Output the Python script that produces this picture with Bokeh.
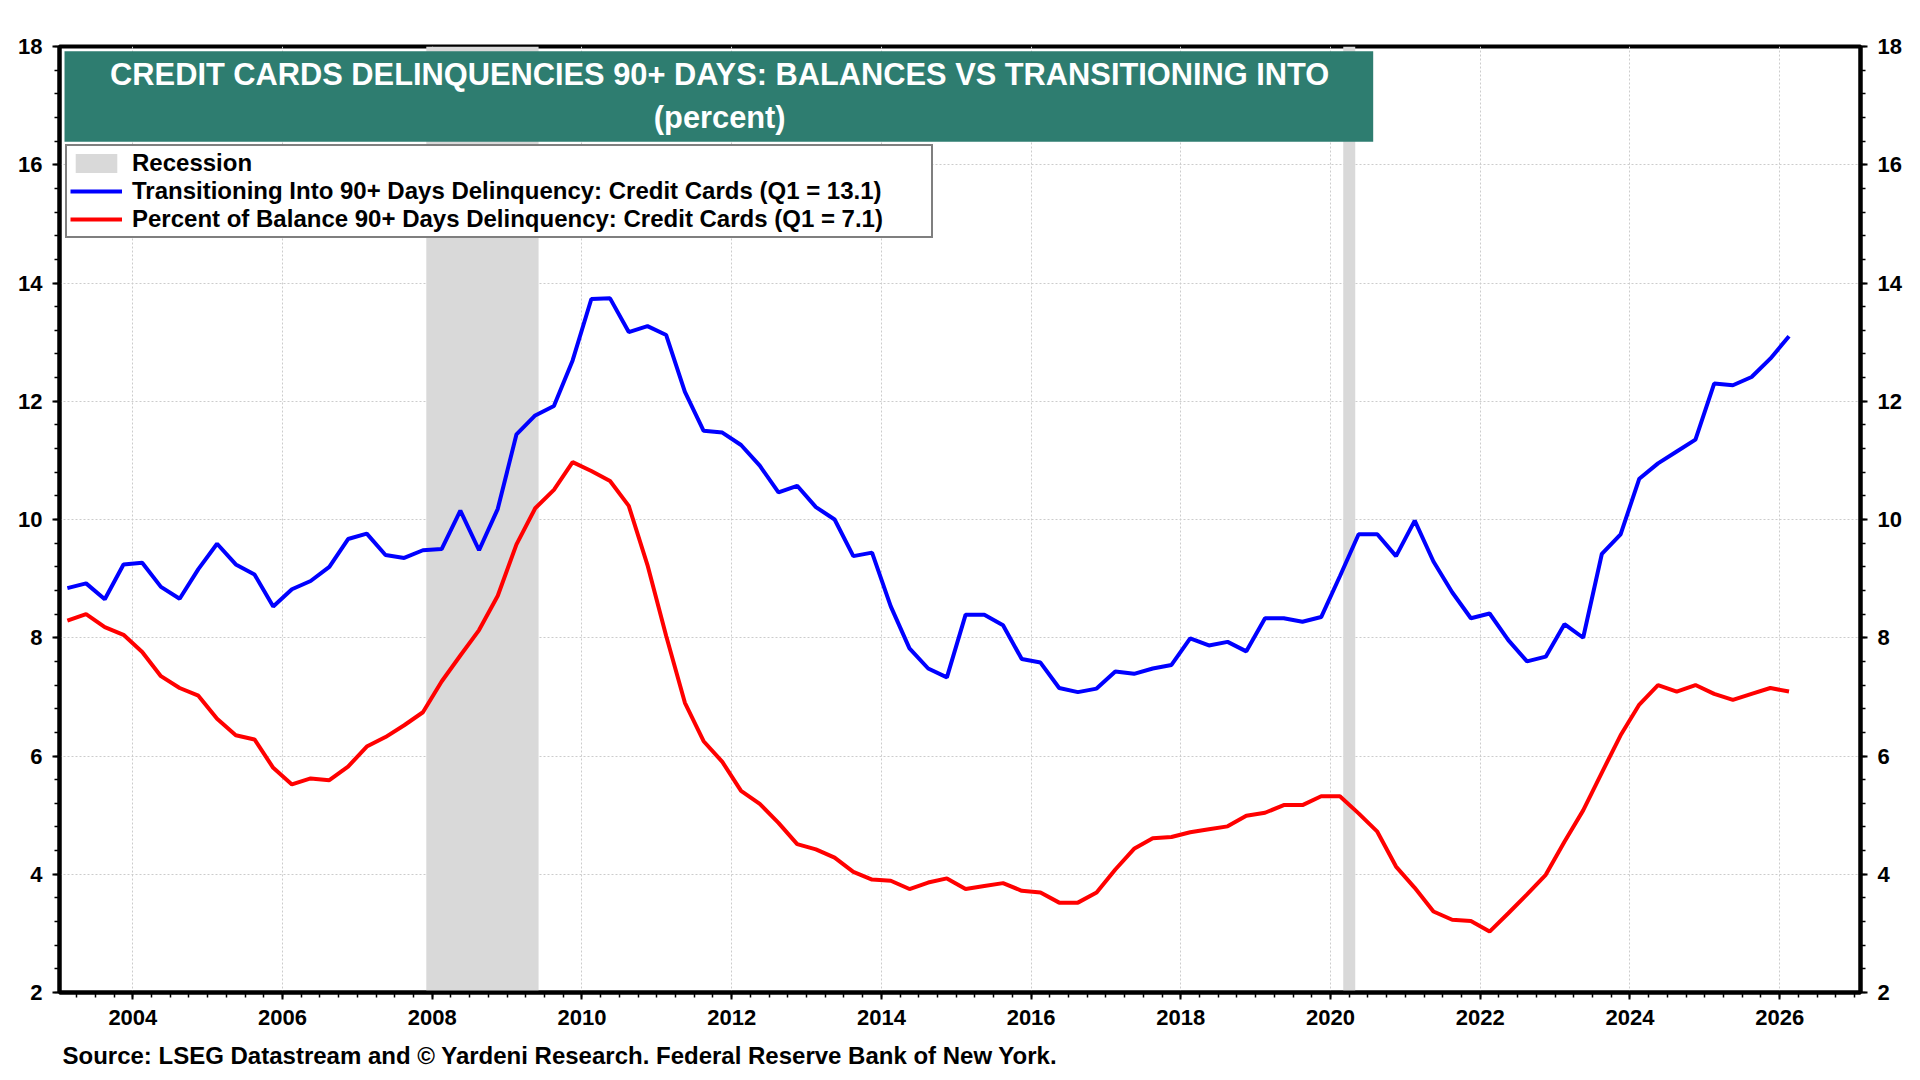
from bokeh.plotting import figure
from bokeh.models import (Range1d, LinearAxis, SingleIntervalTicker, Legend, LegendItem,
                          BoxAnnotation, Label, Title)
from bokeh.embed import file_html
from bokeh.resources import INLINE

# ---------------- data (quarterly, 2003Q1 .. 2026Q1) ----------------
start_year = 2003
transitioning = [
    8.84, 8.92, 8.65, 9.24, 9.27, 8.86, 8.66, 9.16, 9.59, 9.24, 9.07, 8.53,
    8.82, 8.96, 9.20, 9.67, 9.76, 9.40, 9.35, 9.48, 9.50, 10.15, 9.48, 10.18,
    11.44, 11.76, 11.92, 12.69, 13.73, 13.74, 13.17, 13.27, 13.12, 12.16, 11.50, 11.47,
    11.26, 10.91, 10.46, 10.57, 10.21, 10.00, 9.38, 9.44, 8.53, 7.82, 7.48, 7.33,
    8.39, 8.39, 8.21, 7.64, 7.58, 7.15, 7.08, 7.14, 7.43, 7.39, 7.48, 7.54,
    7.99, 7.87, 7.93, 7.77, 8.33, 8.33, 8.27, 8.35, 9.04, 9.75, 9.75, 9.38,
    9.98, 9.29, 8.77, 8.33, 8.41, 7.96, 7.60, 7.68, 8.23, 8.00, 9.42, 9.75,
    10.69, 10.95, 11.15, 11.35, 12.30, 12.27, 12.41, 12.72, 13.10,
]
balance = [
    8.29, 8.40, 8.18, 8.05, 7.76, 7.35, 7.15, 7.02, 6.63, 6.35, 6.28, 5.80,
    5.52, 5.62, 5.59, 5.82, 6.16, 6.32, 6.52, 6.74, 7.26, 7.70, 8.13, 8.71,
    9.58, 10.19, 10.50, 10.97, 10.82, 10.65, 10.23, 9.23, 8.03, 6.90, 6.25, 5.90,
    5.41, 5.19, 4.87, 4.51, 4.42, 4.28, 4.04, 3.91, 3.89, 3.75, 3.86, 3.93,
    3.75, 3.80, 3.85, 3.72, 3.69, 3.52, 3.52, 3.69, 4.08, 4.43, 4.61, 4.63,
    4.71, 4.76, 4.81, 4.99, 5.04, 5.17, 5.17, 5.32, 5.32, 5.03, 4.72, 4.13,
    3.77, 3.37, 3.23, 3.21, 3.03, 3.34, 3.66, 3.99, 4.55, 5.08, 5.72, 6.35,
    6.87, 7.20, 7.09, 7.20, 7.05, 6.95, 7.05, 7.15, 7.09,
]
rec_start = [2007.92, 2020.17]
rec_end = [2009.42, 2020.33]
x_ticks_interval = 2
y_ticks_interval = 2

title_line1 = "CREDIT CARDS DELINQUENCIES 90+ DAYS: BALANCES VS TRANSITIONING INTO"
title_line2 = "(percent)"
legend_labels = [
    "Recession",
    "Transitioning Into 90+ Days Delinquency: Credit Cards (Q1 = 13.1)",
    "Percent of Balance 90+ Days Delinquency: Credit Cards (Q1 = 7.1)",
]
source_text = "Source: LSEG Datastream and \u00a9 Yardeni Research. Federal Reserve Bank of New York."

# quarter mid-points as decimal years
dates = [start_year + 0.125 + 0.25 * i for i in range(len(transitioning))]

FONT = "Liberation Sans"
Y0, Y1 = 2, 18

p = figure(width=1920, height=1080, output_backend="svg", toolbar_location=None,
           x_range=Range1d(2003.02, 2027.08), y_range=Range1d(Y0, Y1),
           min_border_left=59, min_border_right=60, min_border_top=46, min_border_bottom=87,
           background_fill_color="white", border_fill_color="white")

p.outline_line_color = "black"
p.outline_line_width = 4

for g in (p.xgrid[0], p.ygrid[0]):
    g.grid_line_color = "#cccccc"
    g.grid_line_dash = "2 2"
    g.grid_line_width = 1

p.xaxis[0].ticker = SingleIntervalTicker(interval=x_ticks_interval, num_minor_ticks=8)
p.yaxis[0].ticker = SingleIntervalTicker(interval=y_ticks_interval, num_minor_ticks=5)
p.xgrid[0].ticker = p.xaxis[0].ticker
p.ygrid[0].ticker = p.yaxis[0].ticker

right_axis = LinearAxis(ticker=SingleIntervalTicker(interval=y_ticks_interval, num_minor_ticks=5))
p.add_layout(right_axis, "right")


def style_axis(ax):
    ax.axis_line_width = 4
    ax.axis_line_color = "black"
    ax.major_tick_line_width = 2
    ax.major_tick_line_color = "black"
    ax.minor_tick_line_width = 1.5
    ax.minor_tick_line_color = "black"
    ax.major_tick_out = 7
    ax.major_tick_in = 0
    ax.minor_tick_out = 5
    ax.minor_tick_in = 0
    ax.major_label_text_font = FONT
    ax.major_label_text_font_style = "bold"
    ax.major_label_text_font_size = "22px"
    ax.major_label_text_color = "black"
    ax.major_label_standoff = 10


for ax in (p.xaxis[0], p.yaxis[0], right_axis):
    style_axis(ax)

# recessions
r_rec = p.quad(left=rec_start, right=rec_end, bottom=Y0, top=Y1,
               fill_color="#d9d9d9", line_color=None)

# series
r_blue = p.line(dates, transitioning, line_color="#0000ff", line_width=4)
r_red = p.line(dates, balance, line_color="#ff0000", line_width=4)

# title box
p.add_layout(BoxAnnotation(left=2003.087, right=2020.57, top=17.92, bottom=16.39,
                           fill_color="#2e7d70", fill_alpha=1.0, line_color=None))
p.add_layout(Label(x=2011.84, y=17.52, text=title_line1, text_align="center",
                   text_baseline="middle", text_color="white", text_font=FONT,
                   text_font_style="bold", text_font_size="30.8px"))
p.add_layout(Label(x=2011.84, y=16.80, text=title_line2, text_align="center",
                   text_baseline="middle", text_color="white", text_font=FONT,
                   text_font_style="bold", text_font_size="30.8px"))

legend = Legend(
    items=[LegendItem(label=legend_labels[0], renderers=[r_rec]),
           LegendItem(label=legend_labels[1], renderers=[r_blue]),
           LegendItem(label=legend_labels[2], renderers=[r_red])],
    location=(6, 754),
    border_line_color="black", border_line_width=2.5,
    background_fill_color="white", background_fill_alpha=1.0,
    label_text_font=FONT, label_text_font_style="bold", label_text_font_size="24px",
    label_text_color="black",
    glyph_width=52, glyph_height=24, label_standoff=10,
    padding=3, spacing=0, margin=0, label_height=26, label_width=796,
)
p.add_layout(legend)

p.add_layout(Title(text=source_text, align="left", offset=3, standoff=24,
                   text_font=FONT, text_font_style="bold", text_font_size="24px",
                   text_color="black"), "below")

open("out.html", "w").write(file_html(p, INLINE))
